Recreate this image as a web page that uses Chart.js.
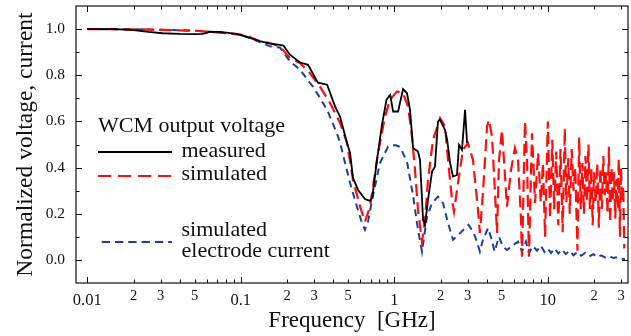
<!DOCTYPE html>
<html>
<head>
<meta charset="utf-8">
<script src="https://cdn.jsdelivr.net/npm/chart.js@4/dist/chart.umd.min.js"></script>
<style>
  html, body { margin: 0; padding: 0; background: #fff; }
  canvas { display: block; }
</style>
</head>
<body>
<canvas id="c" width="631" height="336"></canvas>
<script>
// ---------------- DATA (frequency in GHz, normalized value) ----------------
const measured = [
  [0.01,1.0],[0.015,1.0],[0.02,0.996],[0.025,0.988],[0.031,0.982],[0.04,0.979],[0.05,0.978],
  [0.056,0.979],[0.06,0.984],[0.062,0.988],[0.073,0.988],[0.094,0.979],[0.1145,0.962],
  [0.133,0.948],[0.155,0.937],[0.18,0.932],[0.19,0.928],[0.209,0.889],[0.243,0.855],
  [0.265,0.848],[0.274,0.845],[0.318,0.768],[0.365,0.759],[0.411,0.665],[0.443,0.621],
  [0.492,0.507],[0.515,0.463],[0.538,0.355],[0.581,0.303],[0.644,0.264],[0.695,0.256],
  [0.72,0.274],[0.771,0.433],[0.833,0.59],[0.89,0.694],[0.94,0.715],[0.982,0.643],
  [1.059,0.643],[1.14,0.74],[1.21,0.722],[1.266,0.65],[1.325,0.485],[1.427,0.47],
  [1.47,0.433],[1.54,0.173],[1.585,0.152],[1.658,0.26],[1.761,0.383],[1.84,0.404],
  [1.926,0.60],[1.986,0.607],[2.14,0.563],[2.21,0.52],[2.31,0.419],[2.413,0.361],
  [2.56,0.368],[2.64,0.498],[2.76,0.477],[2.89,0.65],[2.98,0.506]
];
const simulatedVoltage = [
  [0.01,1.0],[0.02,0.999],[0.03,0.997],[0.05,0.993],[0.07,0.986],[0.1,0.976],[0.1145,0.966],
  [0.133,0.947],[0.155,0.939],[0.18,0.925],[0.209,0.874],[0.243,0.853],[0.282,0.809],
  [0.328,0.751],[0.381,0.68],[0.443,0.594],[0.492,0.507],[0.538,0.347],[0.599,0.23],
  [0.644,0.166],[0.695,0.231],[0.771,0.433],[0.807,0.507],[0.869,0.621],[0.94,0.694],
  [1.041,0.73],[1.14,0.722],[1.229,0.665],[1.304,0.535],[1.364,0.39],[1.427,0.217],
  [1.515,0.079],[1.585,0.173],[1.658,0.347],[1.787,0.52],[1.986,0.614],[2.14,0.578],
  [2.238,0.433],[2.376,0.26],[2.449,0.209],[2.60,0.333],[2.80,0.477],[3.02,0.506],
  [3.256,0.433],[3.51,0.217],[3.61,0.117],[3.78,0.29],[4.02,0.578],[4.14,0.607],
  [4.33,0.535],[4.53,0.29],[4.67,0.117],[4.81,0.433],[5.03,0.563],[5.18,0.433],
  [5.42,0.231],[5.76,0.39],[6.11,0.484],[6.40,0.433],[6.69,0.173],[6.79,0.014],
  [7.10,0.60],[7.32,0.433],[7.54,0.014],[7.89,0.549],[8.26,0.247],[8.64,0.464],
  [9.0,0.25],[9.3,0.42],[9.6,0.10],[10.0,0.60],[10.35,0.18],[10.7,0.52],[11.0,0.22],
  [11.35,0.47],[11.7,0.15],[12.1,0.48],[12.5,0.12],[12.9,0.57],[13.2,0.25],[13.6,0.44],
  [13.9,0.20],[14.3,0.48],[14.7,0.30],[15.1,0.40],[15.6,0.04],[16.0,0.53],[16.4,0.22],
  [16.8,0.42],[17.2,0.20],[17.6,0.45],[18.0,0.25],[18.4,0.50],[18.8,0.22],[19.2,0.40],
  [19.6,0.15],[20.0,0.38],[20.5,0.25],[21.0,0.42],[21.5,0.14],[22.0,0.40],[22.5,0.22],
  [23.0,0.45],[23.5,0.28],[24.0,0.38],[24.5,0.20],[25.0,0.49],[25.5,0.16],[26.0,0.40],
  [26.5,0.25],[27.0,0.38],[27.5,0.18],[28.0,0.35],[28.5,0.22],[29.0,0.44],[29.5,0.10],
  [30.0,0.40],[30.5,0.25],[31.0,0.32],[31.5,0.05]
];
const electrodeCurrent = [
  [0.01,1.0],[0.02,0.999],[0.03,0.997],[0.05,0.993],[0.07,0.986],[0.1,0.975],[0.1145,0.962],
  [0.155,0.925],[0.18,0.92],[0.209,0.86],[0.243,0.824],[0.282,0.767],[0.295,0.751],
  [0.328,0.702],[0.365,0.65],[0.381,0.621],[0.43,0.535],[0.45,0.49],[0.515,0.333],
  [0.571,0.231],[0.616,0.16],[0.644,0.13],[0.674,0.166],[0.727,0.28],[0.807,0.42],
  [0.911,0.491],[1.012,0.498],[1.089,0.49],[1.21,0.425],[1.324,0.28],[1.427,0.13],
  [1.515,0.036],[1.633,0.188],[1.761,0.246],[1.926,0.274],[2.077,0.246],[2.238,0.16],
  [2.413,0.087],[2.68,0.116],[3.04,0.152],[3.26,0.123],[3.45,0.08],[3.61,0.036],
  [3.78,0.087],[4.08,0.138],[4.3,0.09],[4.5,0.036],[4.81,0.10],[5.1,0.058],[5.42,0.043],
  [5.84,0.06],[6.4,0.079],[6.79,0.036],[7.21,0.079],[7.54,0.03],[8.0,0.06],[8.5,0.04],
  [9.0,0.062],[9.5,0.035],[10.0,0.05],[10.5,0.03],[11.1,0.05],[11.7,0.028],[12.4,0.045],
  [13.1,0.025],[13.9,0.04],[14.7,0.02],[15.6,0.035],[16.5,0.018],[17.5,0.03],[18.6,0.015],
  [19.8,0.025],[21.0,0.012],[22.3,0.02],[23.7,0.01],[25.2,0.016],[26.8,0.008],[28.5,0.012],
  [30.2,0.005],[31.8,0.004]
];
const xDecades = [0.01, 0.1, 1, 10];
const xDecadeLabels = ['0.01', '0.1', '1', '10'];
const xMinorLabelled = [2, 3, 5];
const yLabelled = [0.0, 0.2, 0.4, 0.6, 0.8, 1.0];
const xTitle = 'Frequency  [GHz]';
const yTitle = 'Normalized voltage, current';
const legendHeader = 'WCM output voltage';
const legendLabels = ['measured', 'simulated', 'simulated', 'electrode current'];

// ---------------- CHART ----------------
const FONT = '"Liberation Serif", "Times New Roman", serif';
Chart.defaults.font.family = FONT;
Chart.defaults.color = '#111';

const X_MIN = 0.00844, X_MAX = 33.3;
const RED = '#ff0d0d', BLUE = '#1b3f9e', BLACK = '#000', INK = '#111';

const xTicks = [];
xDecades.forEach((d, di) => {
  for (let m = 1; m <= 9; m++) {
    const v = d * m;
    if (v < X_MIN || v > X_MAX) continue;
    let lbl = '', kind = 'minor';
    if (m === 1) { lbl = xDecadeLabels[di]; kind = 'major'; }
    else if (xMinorLabelled.includes(m)) { lbl = String(m); kind = 'sub'; }
    xTicks.push({ value: v, lbl, kind });
  }
});

const frameTicks = {
  id: 'frameTicks',
  afterDraw(chart) {
    const { ctx, chartArea: a, scales: { x, y } } = chart;
    ctx.save();
    ctx.strokeStyle = INK;
    ctx.lineWidth = 1.2;
    ctx.strokeRect(a.left, a.top, a.right - a.left, a.bottom - a.top);
    ctx.lineWidth = 1;
    ctx.beginPath();
    x.ticks.forEach(t => {
      const px = Math.round(x.getPixelForValue(t.value)) + 0.5;
      const len = t.kind === 'major' ? 6 : 3.5;
      ctx.moveTo(px, a.bottom); ctx.lineTo(px, a.bottom - len);
      ctx.moveTo(px, a.top); ctx.lineTo(px, a.top + len);
    });
    y.ticks.forEach(t => {
      const k = Math.round(t.value * 10);
      if (t.value <= y.min + 1e-9 || t.value >= y.max - 1e-9) return;
      const py = Math.round(y.getPixelForValue(t.value)) + 0.5;
      const len = (k % 2 === 0) ? 6 : 3.5;
      ctx.moveTo(a.left, py); ctx.lineTo(a.left + len, py);
      ctx.moveTo(a.right, py); ctx.lineTo(a.right - len, py);
    });
    ctx.stroke();

    // tick labels
    ctx.fillStyle = INK;
    ctx.textBaseline = 'middle';
    ctx.textAlign = 'center';
    x.ticks.forEach(t => {
      if (!t.lbl) return;
      const px = x.getPixelForValue(t.value);
      if (t.kind === 'major') {
        ctx.font = '16.5px ' + FONT;
        ctx.fillText(t.lbl, px, a.bottom + 18);
      } else {
        ctx.font = '14.5px ' + FONT;
        ctx.fillText(t.lbl, px, a.bottom + 13);
      }
    });
    ctx.textAlign = 'right';
    ctx.font = '15.5px ' + FONT;
    yLabelled.forEach(v => {
      ctx.fillText(v.toFixed(1), a.left - 11, y.getPixelForValue(v));
    });

    // legend
    ctx.font = '22px ' + FONT;
    ctx.textBaseline = 'alphabetic';
    ctx.textAlign = 'left';
    ctx.fillText(legendHeader, 98, 132);
    ctx.lineWidth = 2;
    ctx.strokeStyle = BLACK; ctx.setLineDash([]);
    ctx.beginPath(); ctx.moveTo(98, 152); ctx.lineTo(172, 152); ctx.stroke();
    ctx.fillText(legendLabels[0], 181.5, 157);
    ctx.strokeStyle = RED; ctx.setLineDash([13.3, 6.7]); ctx.lineWidth = 2.2;
    ctx.beginPath(); ctx.moveTo(98, 176); ctx.lineTo(172, 176); ctx.stroke();
    ctx.fillText(legendLabels[1], 181.5, 180);
    ctx.strokeStyle = BLUE; ctx.setLineDash([8.3, 5]); ctx.lineWidth = 2;
    ctx.beginPath(); ctx.moveTo(101.7, 242); ctx.lineTo(172, 242); ctx.stroke();
    ctx.fillText(legendLabels[2], 181.5, 236);
    ctx.fillText(legendLabels[3], 181.5, 257);
    ctx.restore();
  }
};

const toXY = arr => arr.map(p => ({ x: p[0], y: p[1] }));

new Chart(document.getElementById('c'), {
  type: 'line',
  data: {
    datasets: [
      { label: 'measured', data: toXY(measured), borderColor: BLACK, borderWidth: 1.8,
        pointRadius: 0, tension: 0, fill: false },
      { label: 'simulated', data: toXY(simulatedVoltage), borderColor: RED, borderWidth: 2.2,
        borderDash: [12, 6], pointRadius: 0, tension: 0, fill: false },
      { label: 'simulated electrode current', data: toXY(electrodeCurrent), borderColor: BLUE,
        borderWidth: 2, borderDash: [7, 5], pointRadius: 0, tension: 0, fill: false }
    ]
  },
  options: {
    responsive: false,
    animation: false,
    devicePixelRatio: 1,
    layout: { padding: { left: 0, right: 3, top: 6, bottom: 0 } },
    plugins: { legend: { display: false }, tooltip: { enabled: false } },
    scales: {
      x: {
        type: 'logarithmic', min: X_MIN, max: X_MAX,
        afterBuildTicks: s => { s.ticks = xTicks.map(t => ({ ...t })); },
        afterFit: s => { s.height = 53; },
        grid: { display: false, drawTicks: false }, border: { display: false },
        ticks: { display: false, autoSkip: false },
        title: { display: true, text: xTitle, color: INK,
          font: { size: 23, family: FONT }, padding: { top: 0, bottom: 1 } }
      },
      y: {
        type: 'linear', min: -0.1, max: 1.1,
        afterFit: s => { s.width = 76; },
        grid: { display: false, drawTicks: false }, border: { display: false },
        ticks: { display: false, stepSize: 0.1, autoSkip: false },
        title: { display: true, text: yTitle, color: INK,
          font: { size: 23.5, family: FONT }, padding: { top: 11.5, bottom: 0 } }
      }
    }
  },
  plugins: [frameTicks]
});
</script>
</body>
</html>
